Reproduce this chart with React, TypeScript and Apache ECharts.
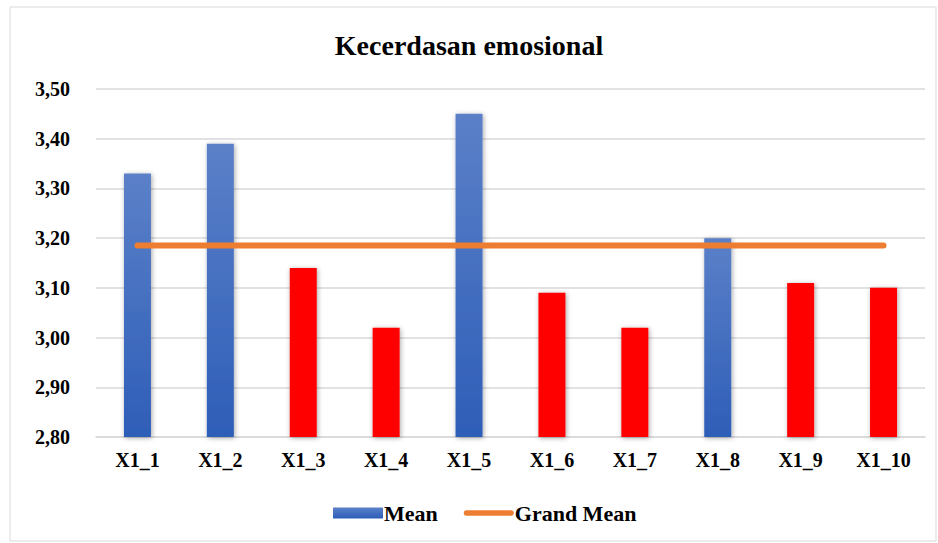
import React, { useEffect, useRef } from "react";
import * as echarts from "echarts";

const categories = ["X1_1", "X1_2", "X1_3", "X1_4", "X1_5", "X1_6", "X1_7", "X1_8", "X1_9", "X1_10"];
const meanValues = [3.33, 3.39, 3.14, 3.02, 3.45, 3.09, 3.02, 3.2, 3.11, 3.1];
const grandMeanValue = 3.185;
const grandMean = categories.map(() => grandMeanValue);

const font = "'Liberation Serif', 'Times New Roman', serif";

export default function App() {
  const ref = useRef<HTMLDivElement>(null);
  useEffect(() => {
    if (!ref.current) return;
    const chart = echarts.init(ref.current, undefined, { renderer: "svg" });
    const blue = new echarts.graphic.LinearGradient(0, 0, 0, 1, [
      { offset: 0, color: "#5b80c8" },
      { offset: 1, color: "#2e5eb8" },
    ]);
    chart.setOption({
      animation: false,
      graphic: [
        {
          type: "rect",
          shape: { x: 10, y: 7, width: 926, height: 534 },
          style: { fill: "none", stroke: "#d9d9d9", lineWidth: 1 },
          silent: true,
        },
      ],
      title: {
        text: "Kecerdasan emosional",
        left: "center",
        top: 26,
        textStyle: { fontFamily: font, fontWeight: "bold", fontSize: 28, color: "#000" },
      },
      legend: {
        bottom: 14,
        left: 328,
        itemWidth: 50,
        itemHeight: 11,
        itemGap: 26,
        textStyle: { fontFamily: font, fontWeight: "bold", fontSize: 22, color: "#000", padding: [0, 0, 0, -4] },
        data: [
          { name: "Mean", icon: "rect", itemStyle: { color: blue } },
          {
            name: "Grand Mean",
            icon: "path://M0,0 M54,11 M3,2.5 L51,2.5 A3,3 0 0 1 51,8.5 L3,8.5 A3,3 0 0 1 3,2.5 Z",
          },
        ],
      },
      grid: { left: 96, right: 13, top: 89, bottom: 106 },
      xAxis: {
        type: "category",
        data: categories,
        axisTick: { show: false },
        axisLine: { lineStyle: { color: "#d9d9d9", width: 1.5 } },
        axisLabel: { fontFamily: font, fontWeight: "bold", fontSize: 20, color: "#000", margin: 13 },
      },
      yAxis: {
        type: "value",
        min: 2.8,
        max: 3.5,
        interval: 0.1,
        axisLine: { show: false },
        axisTick: { show: false },
        splitLine: { lineStyle: { color: "#d9d9d9", width: 1.5 } },
        axisLabel: {
          fontFamily: font,
          fontWeight: "bold",
          fontSize: 20,
          color: "#000",
          margin: 26,
          formatter: (v: number) => v.toFixed(2).replace(".", ","),
        },
      },
      series: [
        {
          name: "Mean",
          type: "bar",
          barWidth: 27,
          data: meanValues.map((v) => ({
            value: v,
            itemStyle: {
              color: v >= grandMeanValue ? blue : "#ff0000",
              shadowColor: "rgba(0,0,0,0.35)",
              shadowBlur: 5,
              shadowOffsetX: 1,
              shadowOffsetY: 1,
            },
          })),
          itemStyle: { color: blue },
        },
        {
          name: "Grand Mean",
          type: "line",
          data: grandMean,
          symbol: "none",
          lineStyle: {
            color: "#ed7d31",
            width: 6,
            cap: "round",
          },
          itemStyle: { color: "#ed7d31" },
          z: 5,
        },
      ],
    });
    return () => chart.dispose();
  }, []);
  return <div ref={ref} style={{ width: 938, height: 543, position: "absolute", left: 0, top: 0 }} />;
}
